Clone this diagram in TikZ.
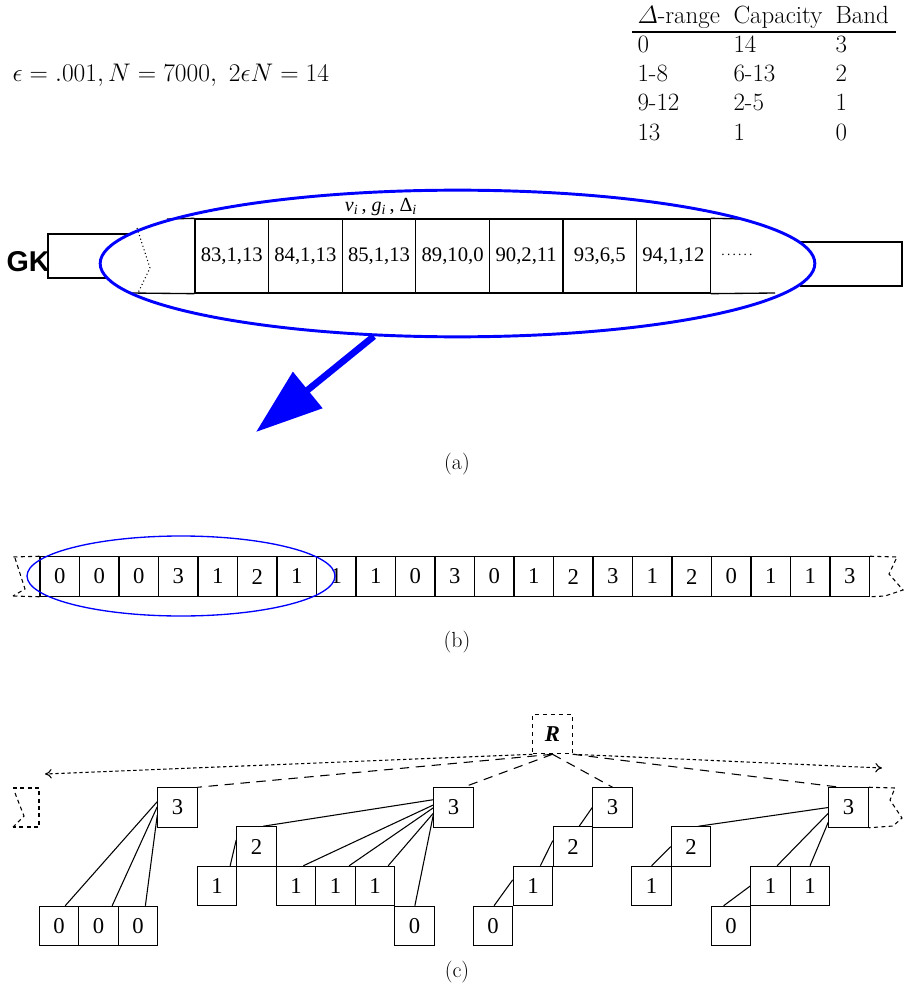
\RequirePackage{fix-cm}
\documentclass[tikz,border=0pt]{standalone}
\usepackage{amsmath}
\usepackage{fontspec}
\newfontfamily\tms{Liberation Serif}
\newfontfamily\hlv{Liberation Sans}
\usetikzlibrary{arrows.meta,shapes.geometric}
\begin{document}
\begin{tikzpicture}[x=0.75pt,y=-0.75pt,line width=0.8pt,
  txt/.style={font=\fontsize{18.7}{22}\selectfont,inner sep=0,anchor=base west},
  sublbl/.style={font=\fontsize{16.4}{20}\selectfont,inner sep=0},
  acell/.style={draw,line width=1pt,minimum width=55.2pt,minimum height=55.5pt,inner sep=0,font=\tms\fontsize{15.5}{18}\selectfont},
  box/.style={draw,minimum size=29.6pt,inner sep=0,font=\tms\fontsize{17}{20}\selectfont},
  brk/.style={dash pattern=on 3pt off 2.5pt},
  ptr/.style={dash pattern=on 2.5pt off 2pt,-{To[length=5pt,width=7pt]}},
  link/.style={dash pattern=on 7pt off 5pt}]
\useasboundingbox (0,0) rectangle (906,987);
% parameters and band table
\node[txt,font=\fontsize{19.1}{23}\selectfont] (eps) at (12,82) {$\epsilon=.001, N=7000,\ 2\epsilon N=14$};
\node[txt] (h1) at (637,24) {$\varDelta$-range};
\node[txt] (h2) at (733,24) {Capacity};
\node[txt] (h3) at (835,24) {Band};
\draw (632,32) -- (896,32);
\foreach \d/\c/\b [count=\k] in {0/14/3,1-8/6-13/2,9-12/2-5/1,13/1/0}{
  \node[txt] (d\k) at (637,{52.5+29.2*(\k-1)}) {\d};
  \node[txt] (c\k) at (733,{52.5+29.2*(\k-1)}) {\c};
  \node[txt] (b\k) at (835,{52.5+29.2*(\k-1)}) {\b};
}
% (a) GK summary
\node[font=\hlv\bfseries\fontsize{21.5}{24}\selectfont,inner sep=0] (gk) at (28,262) {GK};
\draw (130,234) -- (48,234) -- (48,278) -- (107,278);
\draw (800,242) -- (902,242) -- (902,286) -- (800,286);
\foreach \t [count=\k] in {{83,1,13},{84,1,13},{85,1,13},{89,10,0},{90,2,11},{93,6,5},{94,1,12}}
  \node[acell] (a\k) at ({195+73.6*(\k-0.5)},256) {\t};
\node[font=\tms\fontsize{10}{12}\selectfont] (dots) at (737,255) {.\,.\,.\,.\,.\,.};
\draw[line width=1pt] (167,219) -- (a1.north west);
\draw[line width=1pt] (130,293) -- (a1.south west);
\draw[line width=1pt] (a7.north east) -- (742,219);
\draw[line width=1pt] (a7.south east) -- (775,293);
\draw[dotted] (137,228) -- (150,268) -- (138,293);
\node[font=\tms\fontsize{15}{17}\selectfont] (vgd) at (381,207)
  {\textit{v}\textsubscript{\textit{i}}\,, \textit{g}\textsubscript{\textit{i}}\,, Δ\textsubscript{\textit{i}}};
\node[draw=blue,line width=2.2pt,ellipse,minimum width=536pt,minimum height=110pt,inner sep=0] (selA) at (457.5,263.5) {};
\coordinate (tipA) at (256,432);
\draw[blue,line width=5pt,-{Triangle[length=50pt,width=34pt]}] (selA.221) -- (tipA);
\node[sublbl] (la) at (457,464) {(a)};
% (b) band sequence
\foreach \v [count=\k] in {0,0,0,3,1,2,1,1,1,0,3,0,1,2,3,1,2,0,1,1,3}
  \node[box] (s\k) at ({40+39.5*(\k-0.5)},576.5) {\v};
\draw[brk] (s1.north west) -- (13,557);
\draw[brk] (s1.south west) -- (13,596);
\draw[brk] (15,558) -- (25,589) -- (13,596);
\draw[brk] (s21.north east) -- (897,557) -- (889,574) -- (903,590) -- (885,596) -- (s21.south east);
\node[draw=blue,line width=1pt,ellipse,minimum width=231pt,minimum height=60pt,inner sep=0] (selB) at (181,576) {};
\node[sublbl] (lb) at (457,642) {(b)};
% (c) band tree
\node[box,dashed,font=\tms\bfseries\itshape\fontsize{17}{20}\selectfont] (R) at (552.5,734) {R};
\node[box] (a3) at (177.5,807.5) {3};
\node[box] (a0a) at (59,926) {0};
\node[box] (a0b) at (98.5,926) {0};
\node[box] (a0c) at (138,926) {0};
\node[box] (b3) at (453.5,807.5) {3};
\node[box] (b2) at (256.5,846.5) {2};
\node[box] (b1a) at (217,886) {1};
\node[box] (b1b) at (296,886) {1};
\node[box] (b1c) at (335.5,886) {1};
\node[box] (b1d) at (375,886) {1};
\node[box] (b0) at (414.5,926) {0};
\node[box] (c3) at (612.5,807.5) {3};
\node[box] (c2) at (573,846.5) {2};
\node[box] (c1) at (533,886) {1};
\node[box] (c0) at (493,926) {0};
\node[box] (d3) at (848.5,807.5) {3};
\node[box] (d2) at (691,846.5) {2};
\node[box] (d1a) at (651.5,886) {1};
\node[box] (d1b) at (770.5,886) {1};
\node[box] (d1c) at (810,886) {1};
\node[box] (d0) at (731,926) {0};
\coordinate (lend) at (45,774);
\coordinate (rend) at (882,768);
\draw[ptr] (R.south west) -- (lend);
\draw[ptr] (R.south east) -- (rend);
\draw[link] (R.south) -- (a3.north east);
\draw[link] (R.south) -- (b3.64);
\draw[link] (R.south) -- (c3.north);
\draw[link] (R.south east) -- (d3.113);
\draw (a3.164) -- (a0a.73);
\draw (a3.178) -- (a0b.56);
\draw (a3.201) -- (a0c.70);
\draw (b3.159) -- (b2.72);
\draw (b3.173) -- (b1b.70);
\draw (b3.181) -- (b1c.56);
\draw (b3.196) -- (b1d.57);
\draw (b3.201) -- (b0.89);
\draw (b2.162) -- (b1a.57);
\draw (c3.180) -- (c2.73);
\draw (c2.164) -- (c1.70);
\draw (c1.163) -- (c0.87);
\draw (d3.180) -- (d2.70);
\draw (d3.196) -- (d1b.72);
\draw (d3.216) -- (d1c.90);
\draw (d2.180) -- (d1a.90);
\draw (d1b.180) -- (d0.110);
\draw[brk] (13,788) -- (39,788) -- (39,827) -- (13,827);
\draw[brk] (15,793) -- (24,816) -- (13,827);
\draw[brk] (d3.north east) -- (895,788) -- (890,800) -- (902,818) -- (893,826) -- (d3.south east);
\node[sublbl] (lc) at (457,972) {(c)};
\end{tikzpicture}
\end{document}
